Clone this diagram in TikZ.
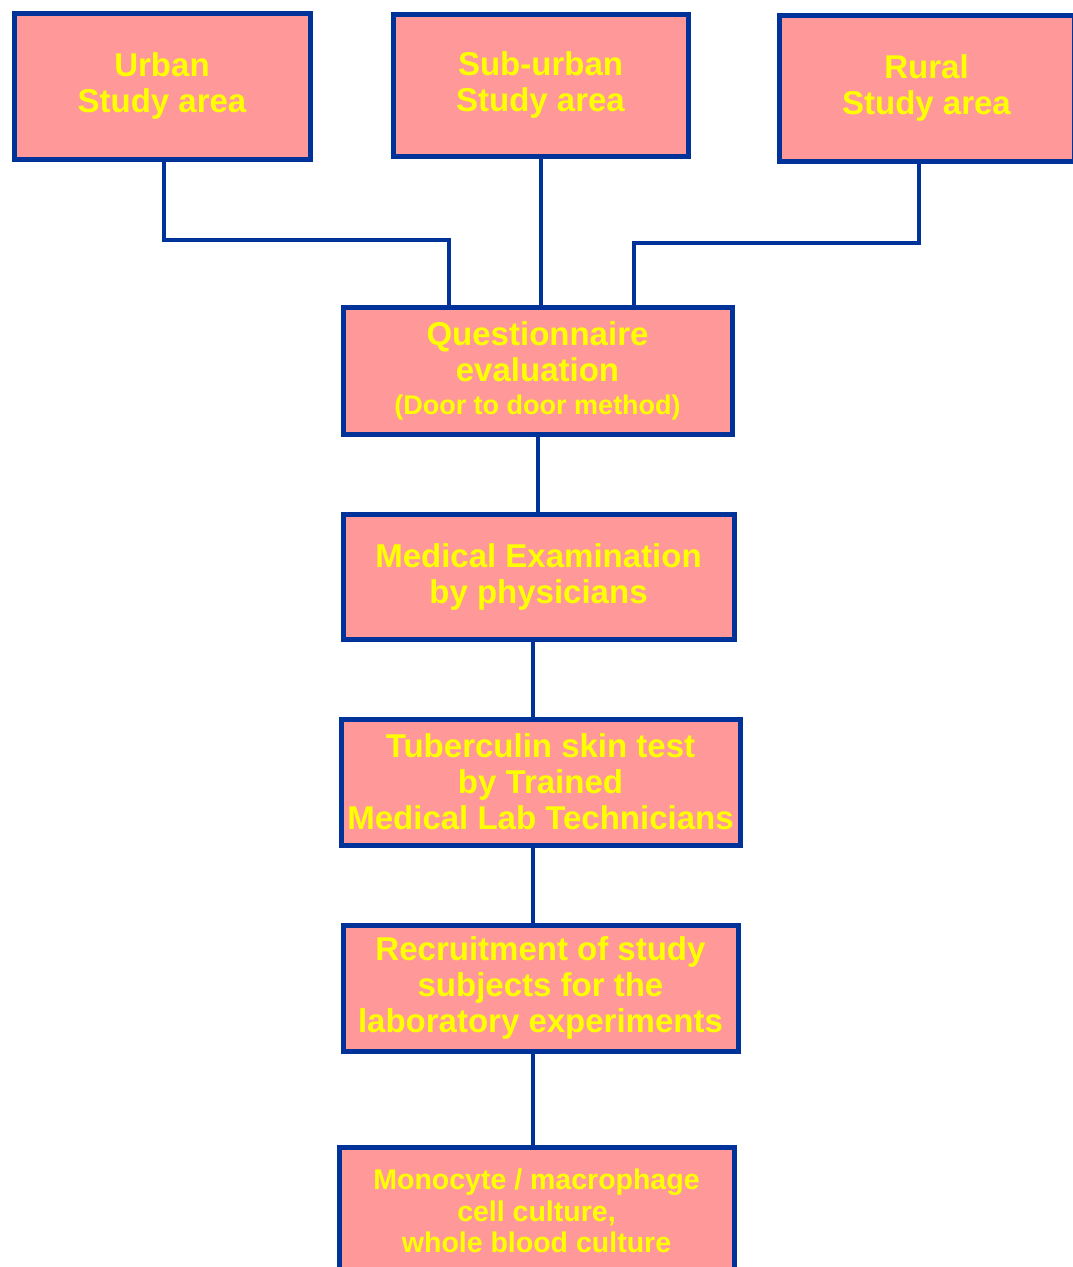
\documentclass[tikz,border=0pt]{standalone}
\usepackage{fontspec}
\setmainfont{Liberation Sans}
\usetikzlibrary{positioning, calc}

\definecolor{boxfill}{HTML}{FF9999}
\definecolor{boxline}{HTML}{003399}
\definecolor{boxtext}{HTML}{FFFF00}

\begin{document}
\begin{tikzpicture}[
    x=1pt, y=-1pt,
    every node/.style={font=\bfseries\fontsize{33}{36}\selectfont},
    areabox/.style={rectangle, draw=boxline, fill=boxfill, line width=5pt, text=boxtext, align=center, inner sep=0pt, minimum width=296pt, minimum height=146pt},
    stagebox/.style={rectangle, draw=boxline, fill=boxfill, line width=5pt, text=boxtext, align=center, inner sep=0pt, minimum width=391pt, minimum height=126pt},
    link/.style={draw=boxline, line width=4pt}
]
\useasboundingbox (0,0) rectangle (1072,1267);

% ============ TOP ROW: Study areas ============
\node[areabox] (urban) at (162, 86) {Urban\\Study area};
\node[areabox, minimum width=295pt, minimum height=142pt] (suburban) at (540.5, 85) {Sub-urban\\Study area};
\node[areabox, minimum width=295pt] (rural) at (926.5, 88) {Rural\\Study area};

% ============ CENTER COLUMN: Study stages ============
\node[stagebox, minimum width=389pt, minimum height=127pt] (quest) at (537.5, 370.5)
    {Questionnaire\\evaluation\\[-3pt]{\fontsize{27}{30}\selectfont (Door to door method)}};
\node[stagebox, minimum height=125pt] (medexam) at (538.5, 576.5) {Medical Examination\\by physicians};
\node[stagebox, minimum width=399pt] (skintest) at (540.5, 782) {Tuberculin skin test\\by Trained\\Medical Lab Technicians};
\node[stagebox, minimum width=395pt] (recruit) at (540.5, 988) {Recruitment of study\\subjects for the\\laboratory experiments};
\node[stagebox, minimum width=395pt, minimum height=128pt, font=\bfseries\fontsize{28.5}{31.5}\selectfont] (culture) at (536.5, 1211)
    {Monocyte / macrophage\\cell culture,\\whole blood culture};

% ============ CONNECTORS ============
\coordinate (spine) at (533, 0);

% From study areas to questionnaire
\draw[link] ([xshift=2pt]urban.south) -- ++(0, 78) -| ([xshift=-88.5pt]quest.north);
\draw[link] (suburban.south) -- (suburban.south |- quest.north);
\draw[link] ([xshift=-7.5pt]rural.south) -- ++(0, 79) -| ([xshift=96.5pt]quest.north);

% Down the stages
\draw[link] (quest.south) -- (quest.south |- medexam.north);
\draw[link] (spine |- medexam.south) -- (spine |- skintest.north);
\draw[link] (spine |- skintest.south) -- (spine |- recruit.north);
\draw[link] (spine |- recruit.south) -- (spine |- culture.north);

\end{tikzpicture}
\end{document}
